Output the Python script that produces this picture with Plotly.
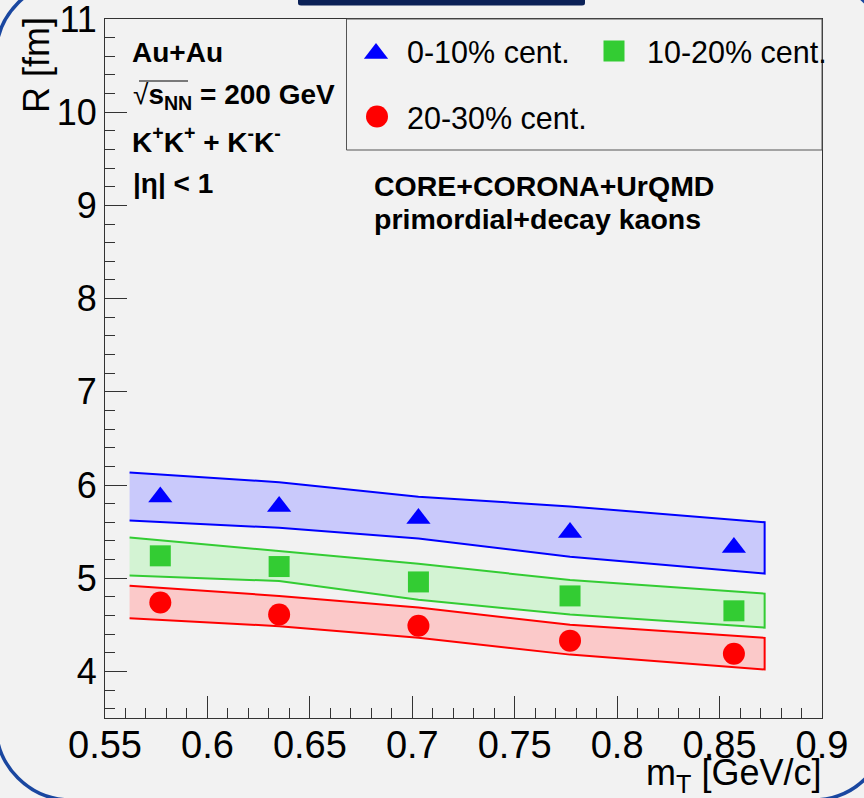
import plotly.graph_objects as go

W, H = 864, 798

# HBT radii vs transverse mass, three centrality classes
m_T = [0.577, 0.635, 0.703, 0.777, 0.857]
R_0_10 = [5.87, 5.77, 5.64, 5.49, 5.33]
R_10_20 = [5.24, 5.125, 4.96, 4.81, 4.65]
R_20_30 = [4.74, 4.61, 4.49, 4.33, 4.19]

# model bands (upper / lower edges)
band_mT = [0.562, 0.635, 0.703, 0.777, 0.872]
band_0_10_hi = [6.135, 6.03, 5.875, 5.77, 5.60]
band_0_10_lo = [5.62, 5.54, 5.425, 5.23, 5.05]
band_10_20_hi = [5.436, 5.29, 5.155, 4.98, 4.835]
band_10_20_lo = [5.03, 4.97, 4.77, 4.61, 4.47]
band_20_30_hi = [4.92, 4.81, 4.685, 4.50, 4.36]
band_20_30_lo = [4.57, 4.485, 4.36, 4.18, 4.02]

labels = ["0-10% cent.", "10-20% cent.", "20-30% cent."]

x_ticks = [0.55, 0.6, 0.65, 0.7, 0.75, 0.8, 0.85, 0.9]
x_tick_labels = ["0.55", "0.6", "0.65", "0.7", "0.75", "0.8", "0.85", "0.9"]
y_ticks = [4, 5, 6, 7, 8, 9, 10, 11]
y_tick_labels = ["4", "5", "6", "7", "8", "9", "10", "11"]

FONT = "Liberation Sans, Arial, Helvetica, sans-serif"
BG = "#f2f2f2"
AXC = "#333333"

series = [
    dict(y=R_0_10, hi=band_0_10_hi, lo=band_0_10_lo, color="#0000ff",
         fill="#c9c9fb", symbol="triangle-up", size=21),
    dict(y=R_10_20, hi=band_10_20_hi, lo=band_10_20_lo, color="#33cc33",
         fill="#d3f3d3", symbol="square", size=21),
    dict(y=R_20_30, hi=band_20_30_hi, lo=band_20_30_lo, color="#ff0000",
         fill="#fbc9c9", symbol="circle", size=22),
]

# plot frame in pixels
PL, PR, PT, PB = 105, 822, 19, 718

fig = go.Figure()

for s in series:
    fig.add_trace(go.Scatter(
        x=band_mT + band_mT[::-1], y=s["hi"] + s["lo"][::-1],
        mode="lines", fill="toself", fillcolor=s["fill"],
        line=dict(color=s["color"], width=2), showlegend=False,
        hoverinfo="skip"))

for s, name in zip(series, labels):
    fig.add_trace(go.Scatter(
        x=m_T, y=s["y"], mode="markers", name=name,
        marker=dict(symbol=s["symbol"], size=s["size"], color=s["color"],
                    line=dict(width=0)),
        showlegend=False))

# legend symbols on a pixel-space overlay axis
leg_x = [376, 614, 377]
leg_y = [53.5, 51, 116.5]
for s, lx, ly in zip(series, leg_x, leg_y):
    fig.add_trace(go.Scatter(
        x=[lx], y=[ly], xaxis="x2", yaxis="y2", mode="markers",
        marker=dict(symbol=s["symbol"], size=s["size"], color=s["color"],
                    line=dict(width=0)),
        showlegend=False, hoverinfo="skip"))

annotations = []


def txt(x, y, text, size, xanchor="left", yanchor="middle", angle=0):
    annotations.append(dict(
        x=x, y=y, xref="x2", yref="y2", text=text, showarrow=False,
        xanchor=xanchor, yanchor=yanchor, textangle=angle,
        font=dict(family=FONT, size=size, color="black")))


# legend labels
txt(405, 52, labels[0], 30.5)
txt(645, 52, labels[1], 30.5)
txt(405, 118, labels[2], 30.5)

# collision system labels
txt(130, 52, "<b>Au+Au</b>", 28)
txt(131, 96, "√<b>s<sub>NN</sub> = 200 GeV</b>", 28)
txt(130, 140, "<b>K<sup>+</sup>K<sup>+</sup> + K<sup>-</sup>K<sup>-</sup></b>", 28)
txt(131, 183, "<b>|η| &lt; 1</b>", 28)
txt(372, 186, "<b>CORE+CORONA+UrQMD</b>", 28.5)
txt(372, 219, "<b>primordial+decay kaons</b>", 28.5)

# axis titles
txt(36, 65, "R [fm]", 36, xanchor="center", yanchor="middle", angle=-90)
txt(823, 775, "m<sub>T</sub> [GeV/c]", 36, xanchor="right", yanchor="middle")


def rounded_rect(x0, y0, x1, y1, r):
    k = 0.5523 * r
    return (f"M{x0 + r},{y0} L{x1 - r},{y0} "
            f"C{x1 - r + k},{y0} {x1},{y0 + r - k} {x1},{y0 + r} "
            f"L{x1},{y1 - r} "
            f"C{x1},{y1 - r + k} {x1 - r + k},{y1} {x1 - r},{y1} "
            f"L{x0 + r},{y1} "
            f"C{x0 + r - k},{y1} {x0},{y1 - r + k} {x0},{y1 - r} "
            f"L{x0},{y0 + r} "
            f"C{x0},{y0 + r - k} {x0 + r - k},{y0} {x0 + r},{y0} Z")


shapes = [
    # legend box
    dict(type="rect", xref="x2", yref="y2", x0=346.5, y0=PT, x1=PR, y1=150,
         line=dict(color="#555555", width=1), fillcolor="rgba(0,0,0,0)"),
    # radical bar
    dict(type="line", xref="x2", yref="y2", x0=139, y0=81, x1=188, y1=81,
         line=dict(color="black", width=1.2)),
    # outer rounded frame
    dict(type="path", xref="x2", yref="y2",
         path=rounded_rect(-4, -19, 888, 800, 75),
         line=dict(color="#1a47a0", width=3.5), fillcolor="rgba(0,0,0,0)"),
    # header tab
    dict(type="path", xref="x2", yref="y2",
         path="M298,-2 L585,-2 L585,3 Q585,5.5 582,5.5 L301,5.5 Q298,5.5 298,3 Z",
         line=dict(width=0), fillcolor="#0b2157"),
]

fig.update_layout(
    width=W, height=H, autosize=False,
    margin=dict(l=0, r=0, t=0, b=0, pad=0, autoexpand=False),
    paper_bgcolor=BG, plot_bgcolor="rgba(0,0,0,0)",
    font=dict(family=FONT, color="black"),
    showlegend=False,
    xaxis=dict(
        domain=[PL / W, PR / W], range=[0.55, 0.9], automargin=False,
        tickmode="array", tickvals=x_ticks, ticktext=x_tick_labels,
        ticks="inside", ticklen=22, tickwidth=1, tickcolor=AXC,
        tickfont=dict(family=FONT, size=38, color="black"),
        ticklabelstandoff=-7, ticklabeloverflow="allow",
        minor=dict(dtick=0.01, tick0=0.55, ticks="inside", ticklen=10,
                   tickwidth=1, tickcolor=AXC, showgrid=False),
        showline=True, linecolor=AXC, linewidth=1, mirror=True,
        showgrid=False, zeroline=False, fixedrange=True,
    ),
    yaxis=dict(
        domain=[1 - PB / H, 1 - PT / H], range=[3.5, 11], automargin=False,
        tickmode="array", tickvals=y_ticks, ticktext=y_tick_labels,
        ticks="inside", ticklen=22, tickwidth=1, tickcolor=AXC,
        tickfont=dict(family=FONT, size=36, color="black"),
        ticklabeloverflow="allow",
        minor=dict(dtick=0.2, tick0=3.6, ticks="inside", ticklen=10,
                   tickwidth=1, tickcolor=AXC, showgrid=False),
        showline=True, linecolor=AXC, linewidth=1, mirror=True,
        showgrid=False, zeroline=False, fixedrange=True,
    ),
    xaxis2=dict(domain=[0, 1], range=[0, W], anchor="y2", visible=False,
                fixedrange=True, automargin=False),
    yaxis2=dict(domain=[0, 1], range=[H, 0], anchor="x2", visible=False,
                fixedrange=True, automargin=False),
    annotations=annotations,
    shapes=shapes,
)

fig.write_html("out.html")
